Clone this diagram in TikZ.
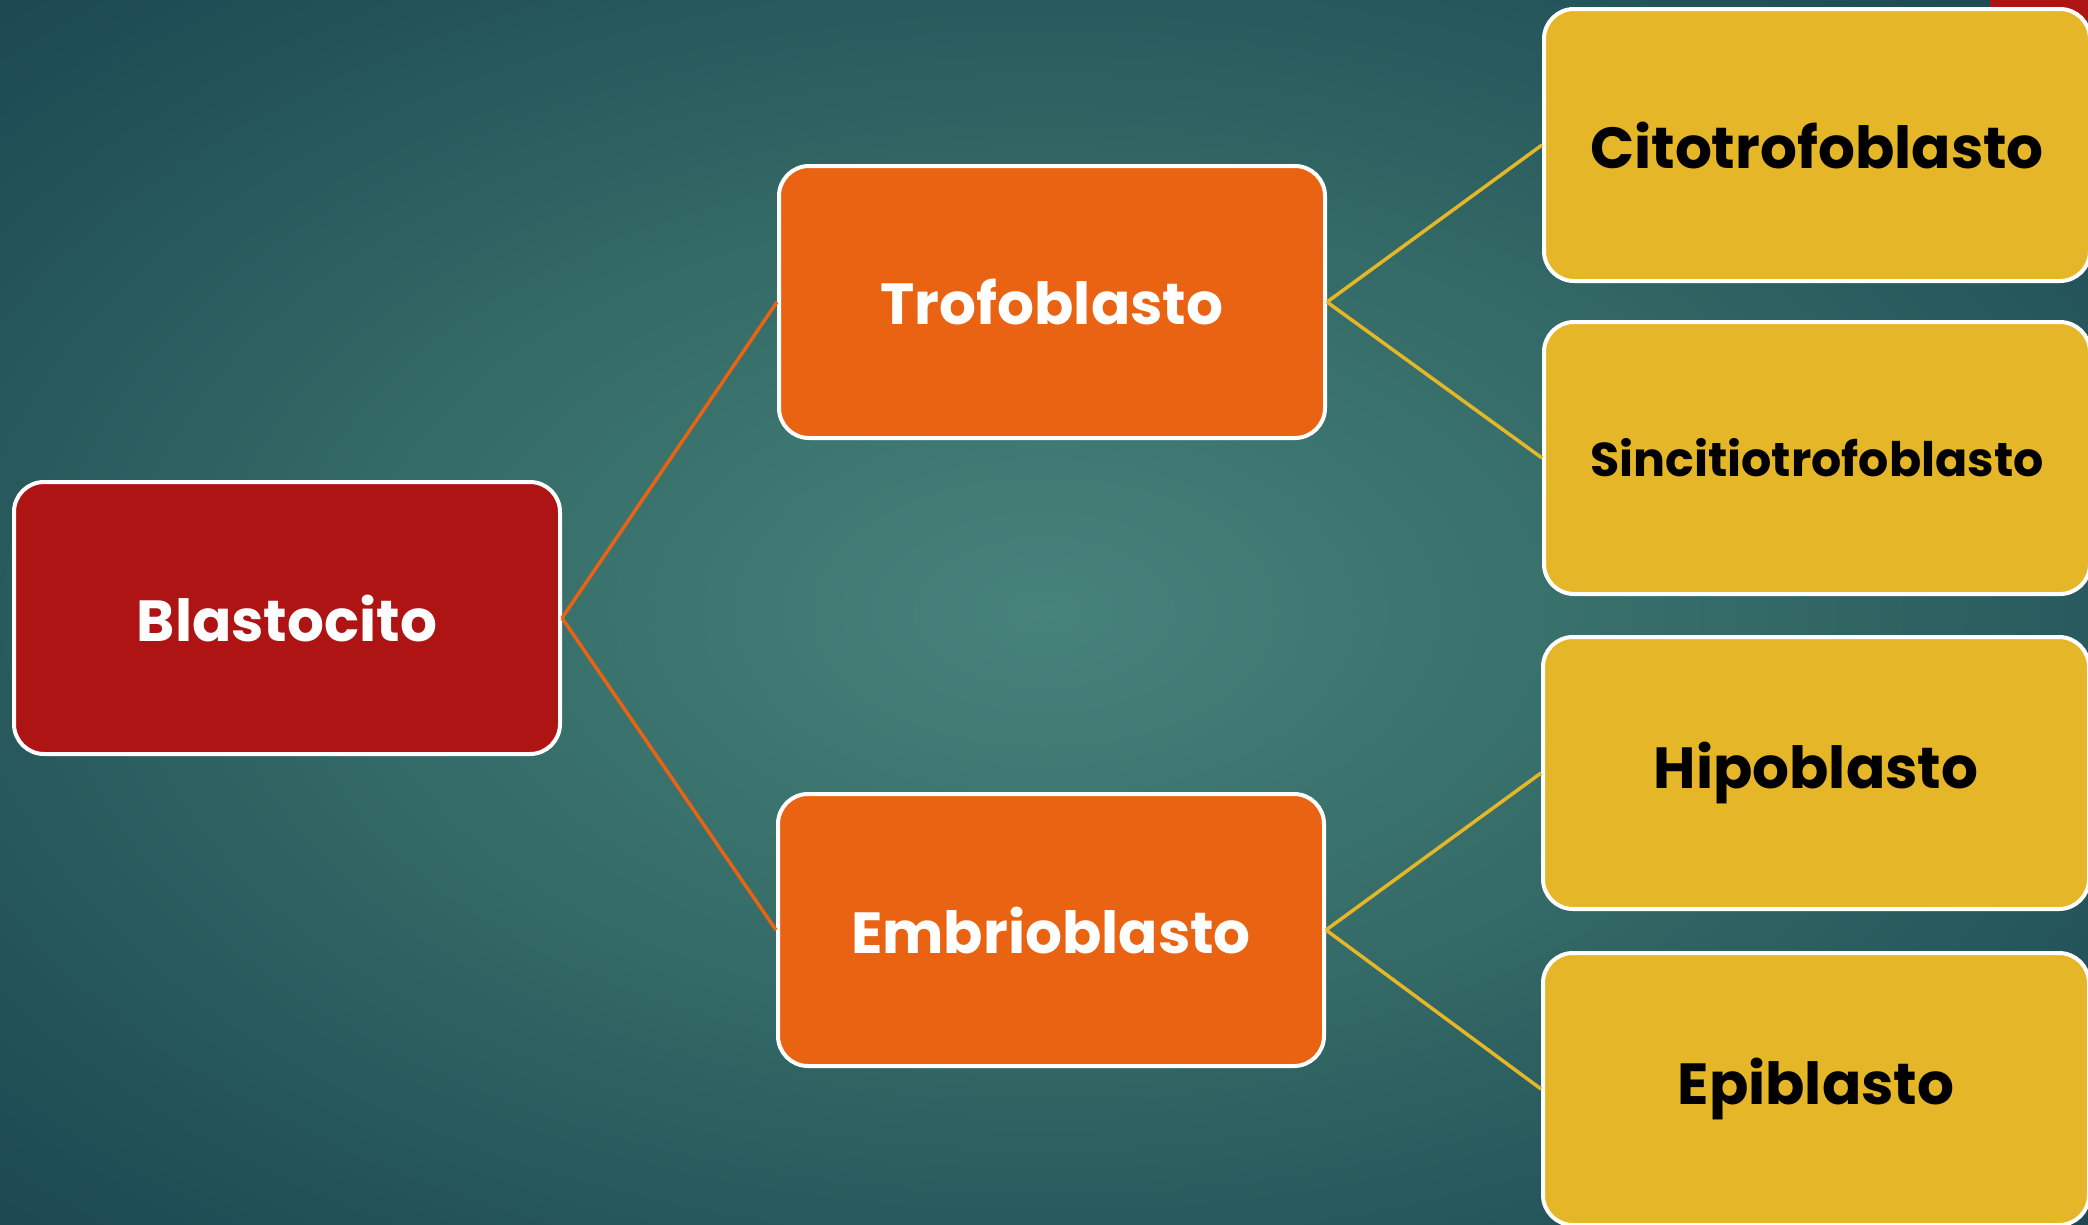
\documentclass[tikz,border=0pt]{standalone}
\usepackage{fontspec}
\setmainfont{Poppins}
\usetikzlibrary{positioning}
\definecolor{bgin}{HTML}{46837B}
\definecolor{bgmid}{HTML}{336966}
\definecolor{bgdark}{HTML}{235359}
\definecolor{bgout}{HTML}{17404C}
\definecolor{redbox}{HTML}{AF1414}
\definecolor{orangebox}{HTML}{E96312}
\definecolor{yellowbox}{HTML}{E5B728}
\pgfdeclareradialshading{bgshade}{\pgfpoint{0bp}{0bp}}{color(0bp)=(bgin); color(17bp)=(bgmid); color(29bp)=(bgdark); color(40bp)=(bgout); color(72bp)=(bgout)}
\tikzset{
  boxbase/.style={rectangle, rounded corners=30pt, draw=white, line width=4pt,
    minimum width=546pt, minimum height=272pt, inner sep=0pt, font=\bfseries},
  redstyle/.style={boxbase, fill=redbox, text=white},
  orangestyle/.style={boxbase, fill=orangebox, text=white},
  yellowstyle/.style={boxbase, fill=yellowbox, text=black},
  orangeline/.style={draw=orangebox, line width=3.5pt},
  yellowline/.style={draw=yellowbox, line width=3.5pt},
}
\newcommand{\bigtxt}[1]{\fontsize{58}{60}\selectfont #1}
\newcommand{\smalltxt}[1]{\fontsize{47.5}{50}\selectfont #1}
\begin{document}
\begin{tikzpicture}[x=1pt,y=-1pt]
\useasboundingbox (0,0) rectangle (2088,1224);
\shade[shading=bgshade] (0,0) rectangle (2088,1224);
\fill[redbox] (1990,0) rectangle (2088,20);
\node[redstyle] (bl) at (287,618) {\bigtxt{Blastocito}};
\node[orangestyle] (tr) at (1052,302) {\bigtxt{Trofoblasto}};
\node[orangestyle] (em) at (1051,930) {\bigtxt{Embrioblasto}};
\node[yellowstyle] (ci) at (1817,145) {\bigtxt{Citotrofoblasto}};
\node[yellowstyle] (si) at (1817,458) {\smalltxt{Sincitiotrofoblasto}};
\node[yellowstyle] (hi) at (1816,773) {\bigtxt{Hipoblasto}};
\node[yellowstyle] (ep) at (1816,1089) {\bigtxt{Epiblasto}};
\draw[orangeline] (bl.east) -- (tr.west);
\draw[orangeline] (bl.east) -- (em.west);
\draw[yellowline] (tr.east) -- (ci.west);
\draw[yellowline] (tr.east) -- (si.west);
\draw[yellowline] (em.east) -- (hi.west);
\draw[yellowline] (em.east) -- (ep.west);
\end{tikzpicture}
\end{document}
